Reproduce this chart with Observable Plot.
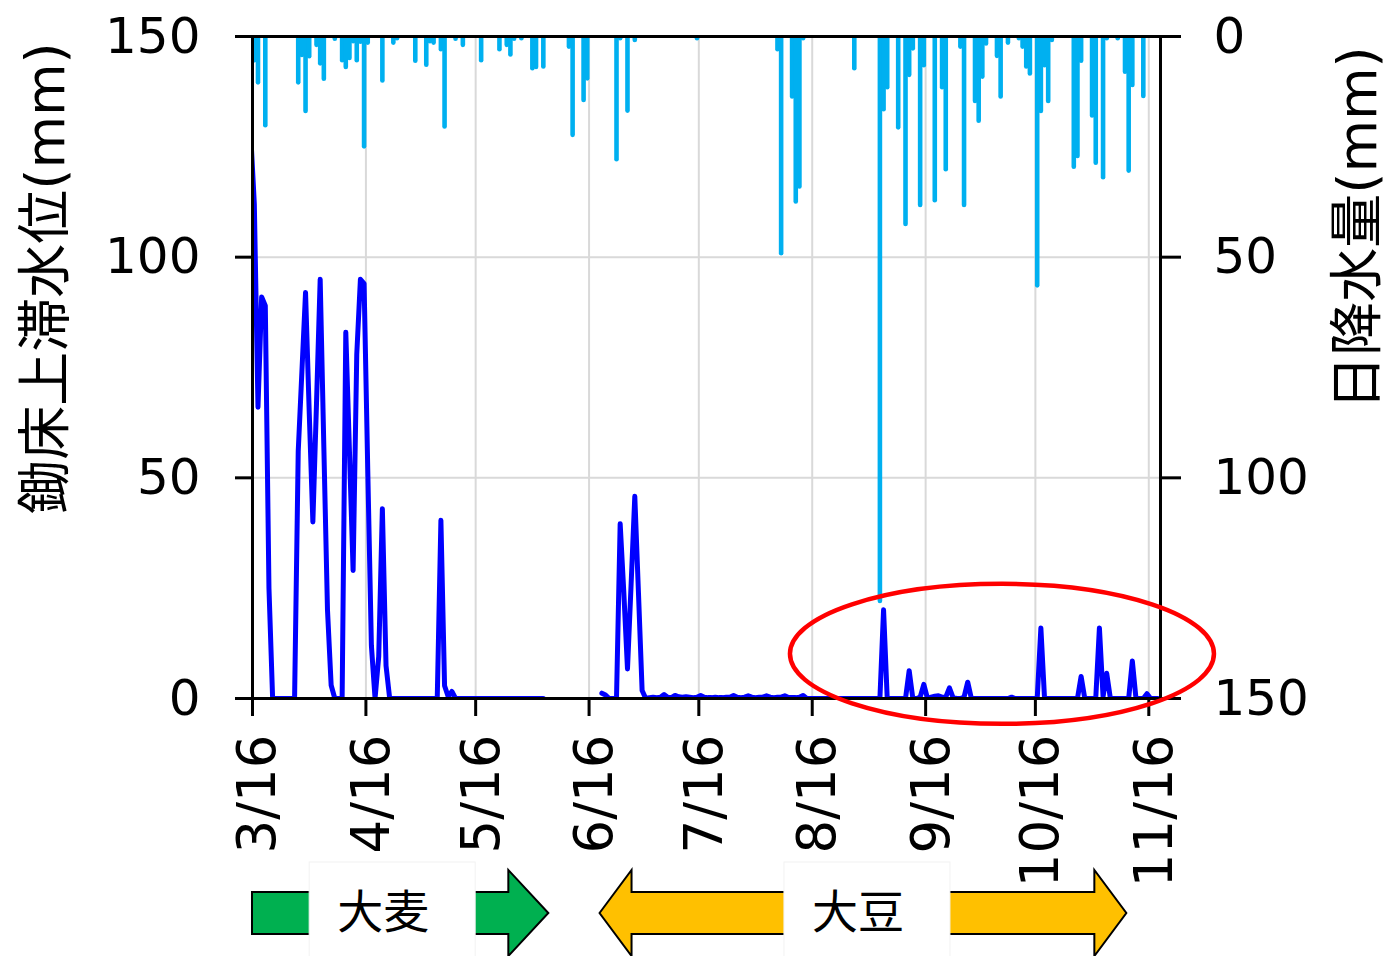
<!DOCTYPE html>
<html><head><meta charset="utf-8">
<script src="https://cdn.jsdelivr.net/npm/d3@7"></script>
<script src="https://cdn.jsdelivr.net/npm/@observablehq/plot@0.6"></script>
<style>
html,body{margin:0;padding:0;background:#fff;}
#chart svg{display:block;}
#chart g[aria-label$="tick"] path, #chart g[aria-label$="tick"] line { stroke-width: 3px; }
#chart g[aria-label="frame"] rect, #chart rect[aria-label="frame"] { stroke-width: 3px; }
</style></head><body>
<div id="chart"></div>
<script>
const YEAR = 2020;

// x tick labels (16th of each month)
const tickLabels = ["3/16","4/16","5/16","6/16","7/16","8/16","9/16","10/16","11/16"];
// left axis: water level above plow sole (mm)
const levelTicks = [0, 50, 100, 150];
// right axis: daily rainfall (mm), reversed
const rainTicks = [0, 50, 100, 150];

// daily rainfall (mm)
const rainDates = ["3/16","3/17","3/19","3/28","3/29","3/30","3/31","4/2","4/3","4/4","4/7","4/9","4/10","4/11","4/12","4/13","4/14","4/15","4/16","4/20","4/23","4/24","4/29","5/2","5/3","5/4","5/6","5/7","5/10","5/12","5/17","5/22","5/24","5/25","5/26","5/28","5/31","6/1","6/3","6/10","6/11","6/14","6/15","6/23","6/24","6/26","6/28","7/15","8/6","8/7","8/10","8/11","8/12","8/13","8/27","9/3","9/4","9/5","9/8","9/10","9/11","9/12","9/14","9/15","9/18","9/20","9/21","9/25","9/26","9/29","9/30","10/1","10/2","10/5","10/6","10/8","10/11","10/12","10/13","10/14","10/16","10/17","10/18","10/19","10/20","10/26","10/27","10/28","10/31","11/1","11/3","11/4","11/7","11/9","11/10","11/11","11/14"];
const rainMm = [5.5,10.5,20.2,10.5,4.3,17,4.6,2,6.2,9.7,0.6,5.5,7,5,1.2,5.5,1.3,25,1.5,10.1,1.5,0.5,5.6,6.5,1.2,1.5,3,20.5,0.6,2,5.5,3,2,4.2,0.6,0.5,7.3,7,6.9,2.4,22.4,14.5,9.6,27.9,0.5,16.9,0.9,0.5,3,49.2,13.7,37.5,34.1,0.5,7.3,128,16.6,11.6,20.7,42.6,8.8,2.8,38.3,6.6,37.2,11.6,30.2,2.4,38.3,14.7,19.2,9.2,1.7,4.5,13.7,1.5,0.5,2.4,6.9,8.5,56.5,17,6.6,14.7,0.9,29.6,27.2,5.6,18,28.7,32,0.5,0.5,8.1,30.5,11.1,13.6];

// daily water level above plow sole (mm), one value per day from levelStart; null = no record
const levelStart = "3/15";
const levelMm = [
  128, 112, 66, 91, 89, 25, 0, 0, 0, 0,
  0, 0, 0, 56, 74, 92, 65, 40, 67, 95,
  57, 20, 3, 0, 0, 0, 83, 56, 29, 78,
  95, 94, 52, 12, 0, 9.5, 43, 7.4, 0, 0,
  0, 0, 0, 0, 0, 0, 0, 0, 0, 0,
  0, 0, 40.4, 2.9, 0.4, 1.6, 0, 0, 0, 0,
  0, 0, 0, 0, 0, 0, 0, 0, 0, 0,
  0, 0, 0, 0, 0, 0, 0, 0, 0, 0,
  0, null, null, null, null, null, null, null, null, null,
  null, null, null, null, null, null, 1.2, 0.8, 0, 0,
  0, 39.6, 24, 6.7, 26, 45.8, 24, 1.8, 0, 0.2,
  0.3, 0.2, 0.3, 0.9, 0.3, 0.2, 0.7, 0.4, 0.3, 0.4,
  0.3, 0.2, 0.3, 0.7, 0.3, 0.2, 0.2, 0.3, 0.2, 0.2,
  0.3, 0.3, 0.7, 0.3, 0.2, 0.3, 0.6, 0.3, 0.2, 0.3,
  0.3, 0.6, 0.3, 0.2, 0.3, 0.3, 0.6, 0.2, 0.2, 0.2,
  0.3, 0.7, 0, 0, 0, 0, 0, 0, 0, 0,
  0, 0, 0, 0, 0, 0, 0, 0, 0, 0,
  0, 0, 0, 20.1, 0, 0, 0, 0, 0, 0,
  6.3, 0, 0, 0.3, 3.2, 0, 0.3, 0.5, 0.6, 0.3,
  0.3, 2.4, 0.2, 0, 0, 0.3, 3.7, 0, 0, 0,
  0, 0, 0, 0, 0, 0, 0, 0, 0.3, 0,
  0, 0, 0, 0, 0, 0, 16, 0, 0, 0,
  0, 0, 0, 0, 0, 0, 0, 5, 0, 0,
  0, 0, 16, 0.4, 5.7, 0, 0, 0, 0, 0,
  0, 8.5, 0, 0, 0, 1.1, 0, 0, 0
];

// crop periods shown under the axis
const cropNames = ["大麦", "大豆"];
const cropStart = ["3/16", "6/19"];
const cropEnd = ["6/5", "11/10"];
const cropBothEnds = [false, true];

// highlighted region
const noteDate = "10/7";
const noteLevel = 10;

// ---------- build ----------
const FONT = '"DejaVu Sans", "Noto Sans CJK JP", sans-serif';
const CJK = '"Noto Sans CJK JP", "DejaVu Sans", sans-serif';
const DAY = 864e5;
const md = (s, h = 0) => { const [m, d] = s.split("/").map(Number); return new Date(Date.UTC(YEAR, m - 1, d, h)); };

const tickDates = tickLabels.map(s => md(s));
const labelOf = new Map(tickDates.map((d, i) => [+d, tickLabels[i]]));
const rain = rainDates.map((s, i) => ({date: md(s, 12), mm: rainMm[i]}));
const level0 = md(levelStart, 12).getTime();
const levelData = levelMm.map((v, i) => ({date: new Date(level0 + i * DAY), mm: v}));
const xDomain = [md("3/16"), new Date(md("3/16").getTime() + 248.2 * DAY)];

const W = 1389, H = 956, ML = 252, MR = 229, MT = 36, MB = 258;

const plot = Plot.plot({
  width: W, height: H,
  marginLeft: ML, marginRight: MR, marginTop: MT, marginBottom: MB,
  style: {fontFamily: FONT, background: "white", color: "black", overflow: "visible"},
  x: {type: "utc", domain: xDomain},
  y: {domain: [0, 150]},
  marks: [
    Plot.ruleX(tickDates, {stroke: "#d9d9d9", strokeWidth: 2}),
    Plot.ruleY([50, 100], {stroke: "#d9d9d9", strokeWidth: 2}),
    Plot.ruleX(rain, {x: "date", y1: 150, y2: d => 150 - d.mm, stroke: "#00B0F0", strokeWidth: 4.6, strokeLinecap: "round", clip: true}),
    Plot.line(levelData, {x: "date", y: "mm", stroke: "#0000FF", strokeWidth: 5, strokeLinejoin: "round", clip: true}),
    Plot.frame({stroke: "black", strokeWidth: 3}),
    Plot.axisY({anchor: "left", ticks: levelTicks, tickSize: 17, tickPadding: 35, fontSize: 50, strokeWidth: 3, label: null}),
    Plot.axisY({anchor: "right", ticks: rainTicks.map(v => 150 - v), tickFormat: d => String(150 - d), tickSize: 20, tickPadding: 33, fontSize: 50, strokeWidth: 3, label: null}),
    Plot.axisX({ticks: tickDates, tickFormat: d => labelOf.get(+d), tickRotate: -90, tickSize: 18, tickPadding: 18, fontSize: 53, strokeWidth: 3, label: null})
  ]
});
document.getElementById("chart").appendChild(plot);

// ---------- annotations ----------
const svg = d3.select(plot);
// shift rotated x tick labels slightly right, as in the reference
svg.selectAll('g[aria-label="x-axis tick label"] text').each(function() {
  const t = d3.select(this).attr("transform");
  if (t) d3.select(this).attr("transform", t.replace(/translate\(([-\d.]+),/, (m, a) => `translate(${+a + 6},`));
});

const xs = d3.scaleUtc().domain(xDomain).range([ML, W - MR]);
const ys = d3.scaleLinear().domain([0, 150]).range([H - MB, MT]);

// axis titles
svg.append("text")
  .attr("transform", "translate(45,278) rotate(-90)")
  .attr("text-anchor", "middle").attr("dominant-baseline", "central")
  .attr("font-family", FONT).attr("font-size", 54).attr("fill", "black")
  .text("鋤床上滞水位(mm)");
svg.append("text")
  .attr("transform", "translate(1357,228) rotate(-90)")
  .attr("text-anchor", "middle").attr("dominant-baseline", "central")
  .attr("font-family", FONT).attr("font-size", 54).attr("fill", "black")
  .text("日降水量(mm)");

// crop arrows
const cropFill = ["#00B050", "#FFC000"];
const cy = 913, bh = 21, hh = 43;
cropNames.forEach((name, i) => {
  const x0 = Math.max(xs(md(cropStart[i])), ML);
  const x1 = xs(md(cropEnd[i]));
  const hl = cropBothEnds[i] ? 32 : 40;
  let pts;
  if (cropBothEnds[i]) {
    pts = [[x0, cy], [x0 + hl, cy - hh], [x0 + hl, cy - bh], [x1 - hl, cy - bh], [x1 - hl, cy - hh], [x1, cy],
           [x1 - hl, cy + hh], [x1 - hl, cy + bh], [x0 + hl, cy + bh], [x0 + hl, cy + hh]];
  } else {
    pts = [[x0, cy - bh], [x1 - hl, cy - bh], [x1 - hl, cy - hh], [x1, cy], [x1 - hl, cy + hh], [x1 - hl, cy + bh], [x0, cy + bh]];
  }
  svg.append("polygon").attr("points", pts.map(p => p.join(",")).join(" "))
    .attr("fill", cropFill[i]).attr("stroke", "black").attr("stroke-width", 2).attr("stroke-linejoin", "miter");
  const cx = (x0 + x1) / 2 - (cropBothEnds[i] ? -4 : 8);
  svg.append("rect").attr("x", cx - 83).attr("y", 862).attr("width", 166).attr("height", 96)
    .attr("fill", "white").attr("stroke", "#f2f2f2").attr("stroke-width", 1);
  svg.append("text").attr("x", cx - 9).attr("y", cy - 5)
    .attr("text-anchor", "middle").attr("dominant-baseline", "central")
    .attr("font-family", CJK).attr("font-size", 46).attr("fill", "black").text(name);
});

// highlight ellipse
svg.append("ellipse")
  .attr("cx", xs(md(noteDate))).attr("cy", ys(noteLevel))
  .attr("rx", 212).attr("ry", 70)
  .attr("fill", "none").attr("stroke", "#FF0000").attr("stroke-width", 4.5);
</script>
</body></html>
